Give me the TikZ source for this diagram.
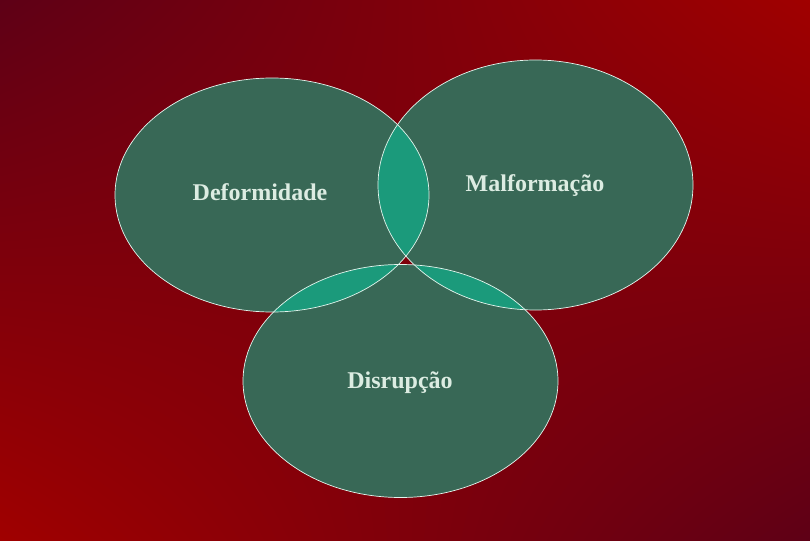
\documentclass[tikz,border=0pt]{standalone}
\usepackage{fontspec}
\setmainfont{Liberation Serif}
\usetikzlibrary{shadings}
\definecolor{bgdark}{HTML}{5E0016}
\definecolor{bgred}{HTML}{A00000}
\definecolor{blobfill}{HTML}{386856}
\definecolor{lensfill}{HTML}{1B9A7B}
\definecolor{rimcol}{HTML}{E4F6EE}
\definecolor{labelcol}{HTML}{DCECE2}
\tikzset{
  blob/.style={fill=blobfill},
  rim/.style={draw=rimcol, line width=0.7pt},
  lens/.style={fill=lensfill},
  venntext/.style={text=labelcol, font=\fontsize{24}{28}\selectfont\bfseries, inner sep=0pt}
}
\def\ellA{(272,195) ellipse [x radius=157, y radius=117]}
\def\ellB{(535.5,185) ellipse [x radius=157.5, y radius=125]}
\def\ellC{(400.5,381) ellipse [x radius=157.5, y radius=116.5]}
\begin{document}
\begin{tikzpicture}[x=1pt,y=-1pt]
  \useasboundingbox (0,0) rectangle (810,540);
  \shade[upper left=bgdark, upper right=bgred, lower left=bgred, lower right=bgdark] (0,0) rectangle (810,540);
  % ellipse bodies
  \fill[blob] \ellA;
  \fill[blob] \ellB;
  \fill[blob] \ellC;
  % pairwise overlaps
  \begin{scope}\clip \ellA; \fill[lens] \ellB; \end{scope}
  \begin{scope}\clip \ellA; \fill[lens] \ellC; \end{scope}
  \begin{scope}\clip \ellB; \fill[lens] \ellC; \end{scope}
  % outlines
  \draw[rim] \ellA;
  \draw[rim] \ellB;
  \draw[rim] \ellC;
  % labels
  \node[venntext] (deform) at (260,192) {Deformidade};
  \node[venntext] (malform) at (535,186) {Malformação};
  \node[venntext] (disrup) at (400,383) {Disrupção};
\end{tikzpicture}
\end{document}
